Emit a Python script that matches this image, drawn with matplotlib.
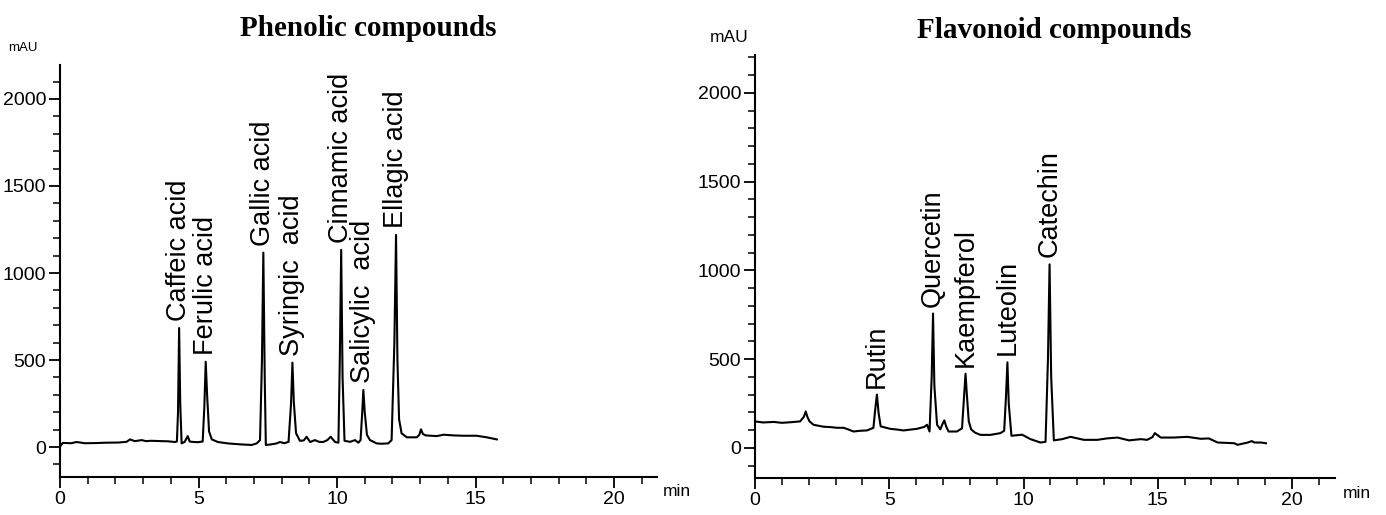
import numpy as np
import matplotlib
matplotlib.use('Agg')
import matplotlib.pyplot as plt
from matplotlib.ticker import MultipleLocator

plt.rcParams['font.family'] = ['Liberation Sans', 'DejaVu Sans']

# phenolic chromatogram (time in min, signal in mAU)
phen_time = [0.0, 0.1, 0.4, 0.6, 0.9, 1.3, 1.62, 2.1, 2.4, 2.53, 2.7, 2.95, 3.1, 3.3, 3.67, 3.9, 4.15, 4.22,
             4.26, 4.30, 4.34, 4.39, 4.5, 4.61, 4.68, 4.76, 4.98, 5.15,
             5.21, 5.26, 5.31, 5.38, 5.48, 5.7, 6.06, 6.3, 6.56, 6.92, 7.1, 7.22,
             7.29, 7.34, 7.39, 7.43, 7.6, 7.8, 7.94, 8.1, 8.25,
             8.34, 8.39, 8.44, 8.52, 8.66, 8.8, 8.9, 9.03, 9.2, 9.35, 9.5, 9.65, 9.77, 9.93, 10.05,
             10.10, 10.15, 10.20, 10.27, 10.47, 10.65, 10.77, 10.85,
             10.91, 10.95, 11.0, 11.08, 11.19, 11.43, 11.6, 11.85, 11.97,
             12.07, 12.13, 12.18, 12.24, 12.33, 12.52, 12.88, 12.97, 13.03, 13.1, 13.2, 13.6, 13.85,
             14.2, 14.56, 15.04, 15.4, 15.77]
phen_mau = [2, 24, 22, 29, 22, 23, 25, 26, 30, 44, 34, 40, 34, 36, 34, 33, 29, 32,
            200, 684, 250, 21, 30, 63, 32, 30, 28, 32,
            230, 490, 300, 90, 44, 29, 21, 18, 15, 12, 21, 40,
            500, 1117, 400, 12, 15, 20, 29, 22, 30,
            250, 485, 260, 80, 36, 38, 59, 29, 40, 30, 29, 40, 59, 29, 25,
            500, 1133, 400, 36, 30, 40, 25, 40,
            200, 328, 200, 70, 40, 21, 19, 21, 40,
            600, 1219, 500, 160, 79, 56, 56, 70, 102, 75, 67, 63, 71,
            67, 65, 65, 56, 44]

phen_names = ['Caffeic acid', 'Ferulic acid', 'Gallic acid', 'Syringic  acid',
              'Cinnamic acid', 'Salicylic  acid', 'Ellagic acid']
phen_rt = [4.30, 5.26, 7.34, 8.39, 10.15, 10.95, 12.13]

# flavonoid chromatogram
flav_time = [0.0, 0.3, 0.7, 1.0, 1.3, 1.68, 1.82, 1.89, 1.95, 2.03, 2.18, 2.55, 2.8, 3.05, 3.3, 3.45, 3.67, 3.9,
             4.17, 4.41,
             4.48, 4.54, 4.60, 4.68, 5.04, 5.3, 5.53, 5.8, 6.03, 6.3, 6.41, 6.5,
             6.58, 6.63, 6.68, 6.78, 6.9, 7.0, 7.05, 7.12, 7.21, 7.52, 7.71,
             7.79, 7.84, 7.89, 7.96, 8.05, 8.2, 8.4, 8.77, 9.14, 9.28,
             9.35, 9.40, 9.45, 9.55, 9.95, 10.26, 10.63, 10.82,
             10.91, 10.97, 11.03, 11.13, 11.44, 11.75, 12.25, 12.75, 13.1, 13.5, 13.93, 14.37, 14.6,
             14.8, 14.89, 15.11, 15.6, 16.1, 16.6, 16.9, 17.23, 17.85, 17.97, 18.35, 18.5, 18.6, 18.84, 19.03]
flav_mau = [149, 143, 146, 141, 144, 149, 175, 205, 175, 149, 130, 119, 117, 113, 113, 105, 92, 96,
            98, 113,
            220, 300, 200, 121, 107, 103, 98, 103, 107, 118, 130, 92,
            400, 757, 350, 130, 104, 140, 155, 120, 92, 92, 110,
            300, 418, 300, 150, 104, 85, 73, 73, 83, 96,
            300, 482, 250, 68, 74, 49, 30, 34,
            500, 1034, 400, 42, 49, 62, 45, 45, 53, 58, 42, 49, 45,
            60, 83, 58, 58, 62, 51, 53, 30, 26, 17, 30, 38, 30, 30, 26]

flav_names = ['Rutin', 'Quercetin', 'Kaempferol', 'Luteolin', 'Catechin']
flav_rt = [4.54, 6.63, 7.84, 9.40, 10.97]

W, H = 1386, 515
fig = plt.figure(figsize=(W / 100, H / 100), dpi=100)

# axes boxes in pixels: left, right, top, bottom
boxes = [(60, 657, 65, 477), (755, 1335, 55, 478)]
panels = [(phen_time, phen_mau, phen_names, phen_rt, (-172, 2195), 21.55),
          (flav_time, flav_mau, flav_names, flav_rt, (-170, 2214), 21.6)]

for (l, r, t, b), (tt, yy, names, rts, ylim, xmax) in zip(boxes, panels):
    ax = fig.add_axes([l / W, 1 - b / H, (r - l) / W, (b - t) / H])
    ax.plot(tt, yy, color='black', lw=1.5)
    ax.set_xlim(0, xmax)
    ax.set_ylim(*ylim)
    for s in ['top', 'right']:
        ax.spines[s].set_visible(False)
    for s in ['left', 'bottom']:
        ax.spines[s].set_linewidth(1.5)
    ax.xaxis.set_major_locator(MultipleLocator(5))
    ax.xaxis.set_minor_locator(MultipleLocator(1))
    ax.yaxis.set_major_locator(MultipleLocator(500))
    ax.yaxis.set_minor_locator(MultipleLocator(100))
    ax.set_yticks([0, 500, 1000, 1500, 2000])
    ax.tick_params(which='major', length=8, width=1.3, labelsize=14, pad=2)
    ax.tick_params(which='minor', length=5, width=1.1)

    # peak labels, just above each apex
    tarr = np.array(tt)
    yarr = np.array(yy)
    for name, rt in zip(names, rts):
        top = yarr[np.abs(tarr - rt) < 0.03].max()
        ax.annotate(name, (rt, top), xytext=(0, 5), textcoords='offset points',
                    rotation=90, ha='center', va='bottom', fontsize=19.5)

# titles and axis captions
fig.text(368 / W, 1 - 29 / H, 'Phenolic compounds', ha='center', va='center',
         fontsize=21, fontweight='bold', family='Liberation Serif')
fig.text(1054 / W, 1 - 31 / H, 'Flavonoid compounds', ha='center', va='center',
         fontsize=21, fontweight='bold', family='Liberation Serif')
fig.text(23 / W, 1 - 48 / H, 'mAU', ha='center', va='center', fontsize=9.5)
fig.text(729 / W, 1 - 38 / H, 'mAU', ha='center', va='center', fontsize=12.5)
fig.text(677 / W, 1 - 491 / H, 'min', ha='center', va='center', fontsize=12.5)
fig.text(1357 / W, 1 - 494 / H, 'min', ha='center', va='center', fontsize=12.5)

plt.savefig('out.png', dpi=100)
plt.close()
